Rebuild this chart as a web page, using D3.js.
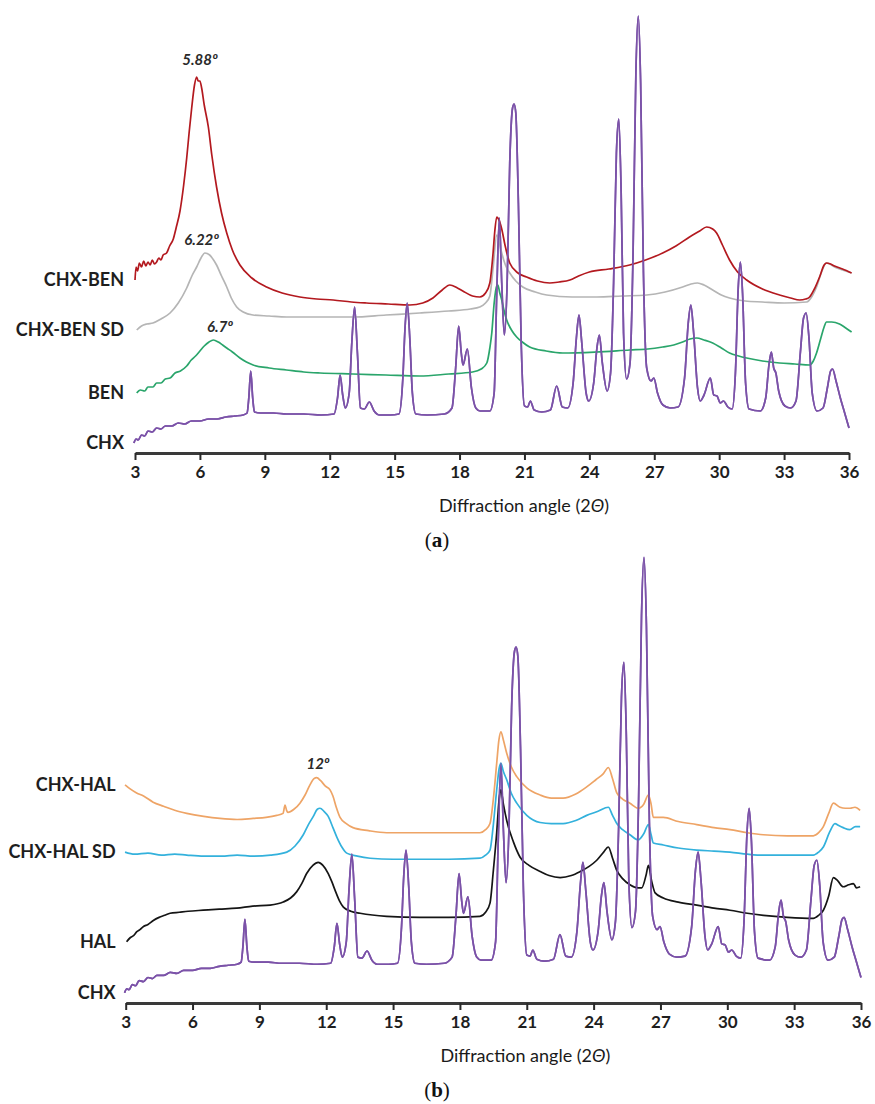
<!DOCTYPE html>
<html>
<head>
<meta charset="utf-8">
<script src="https://cdn.jsdelivr.net/npm/d3@7"></script>
<style>
  body { margin: 0; background: #fff; }
  .lbl { font-family: Lato, "Liberation Sans", sans-serif; font-weight: 700; fill: #1e1e1e; }
  .tick-lbl { font-family: Lato, sans-serif; font-weight: 700; font-size: 17px; fill: #1e1e1e; }
  .ax-title { font-family: Lato, sans-serif; font-size: 18px; fill: #1a1a1a; }
  .ann { font-family: Lato, sans-serif; font-weight: 700; font-style: italic; font-size: 15px; fill: #2a2a2a; }
  .panel-id { font-family: "Liberation Serif", "DejaVu Serif", serif; font-size: 21px; fill: #111; }
</style>
</head>
<body>
<svg id="chart" width="875" height="1104"></svg>
<script>
// x ticks (2θ)
const xTicks = [3, 6, 9, 12, 15, 18, 21, 24, 27, 30, 33, 36];

// CHX pattern, same in both panels [2θ, intensity a.u.]
const chx = [[2.95,10],[3.05,14],[3.15,13],[3.3,18],[3.45,17],[3.6,22],[3.8,21],[4.0,25],[4.2,24],[4.4,27],[4.7,27],[5.0,30],[5.3,29],[5.6,32],[6.0,32],[6.4,34],[6.8,34],[7.2,36],[7.6,37],[8.0,38],[8.18,40],
  [8.26,55],[8.35,82],[8.44,55],[8.52,41],[8.8,40],[9.4,40],[10.0,39],[10.8,39],[11.6,38],[12.2,39],
  [12.36,55],[12.48,78],[12.6,58],[12.72,45],[12.9,60],[13.02,110],[13.15,146],[13.28,100],[13.42,45],
  [13.6,44],[13.83,51],[14.05,42],[14.3,38],[14.8,38],[15.2,39],
  [15.38,75],[15.48,125],[15.58,150],[15.7,115],[15.82,60],[15.98,39],[16.5,38],[17.3,39],[17.65,45],
  [17.82,85],[17.96,127],[18.08,100],[18.16,88],[18.36,104],[18.55,65],[18.75,45],[18.95,42],[19.4,42],
  [19.6,60],[19.72,160],[19.84,235],[19.95,170],[20.07,118],[20.2,170],[20.32,290],[20.45,345],[20.52,349],[20.6,340],[20.72,250],[20.85,110],[21.0,47],
  [21.15,46],[21.27,52],[21.45,43],[21.8,41],[22.2,43],[22.49,67],[22.75,46],[23.0,45],
  [23.25,70],[23.4,115],[23.52,138],[23.65,110],[23.85,60],[23.97,52],[24.2,70],[24.35,105],[24.46,118],[24.6,90],[24.82,62],
  [24.98,80],[25.12,170],[25.25,300],[25.36,334],[25.47,260],[25.58,120],[25.72,74],
  [25.88,90],[26.02,200],[26.15,380],[26.26,437],[26.37,370],[26.5,180],[26.65,85],[26.85,72],[26.98,75],[27.15,60],[27.4,48],[27.74,45],
  [28.1,46],[28.4,75],[28.57,130],[28.69,148],[28.82,120],[29.0,65],[29.12,52],[29.3,58],[29.59,75],[29.75,58],[29.9,57],[30.05,50],[30.2,52],[30.4,46],[30.6,44],
  [30.75,80],[30.88,165],[30.98,191],[31.08,160],[31.22,70],[31.38,44],[31.9,42],
  [32.15,55],[32.3,88],[32.41,101],[32.52,85],[32.62,80],[32.75,62],[33.04,47],[33.3,45],
  [33.55,52],[33.75,100],[33.9,135],[34.02,140],[34.15,115],[34.3,60],[34.52,42],[34.8,45],
  [35.0,65],[35.15,82],[35.24,84],[35.4,72],[35.6,55],[35.8,40],[36.0,25]];

// panel (a)
const chxBen = [[3.0,173],[3.05,186],[3.12,182],[3.2,190],[3.3,186],[3.4,192],[3.5,187],[3.6,191],[3.7,188],[3.8,193],[3.9,189],[4.0,191],[4.1,195],[4.2,193],[4.3,198],[4.46,200],[4.6,207],[4.77,214],[4.9,225],
  [5.08,242],[5.25,268],[5.39,295],[5.5,320],[5.62,345],[5.75,368],[5.85,376],[5.92,372],[6.0,372],[6.08,365],[6.2,348],[6.39,326],[6.55,298],[6.77,266],[7.0,240],[7.24,220],[7.5,203],[7.85,188],
  [8.4,175],[9.08,166],[9.8,160],[10.62,156],[11.4,154],[12.16,153],[13.0,151],[13.7,150],[14.7,149],[15.7,148],[16.3,150],[16.77,155],[17.2,163],[17.55,168],[17.9,165],[18.15,162],[18.6,157],[18.94,156],
  [19.2,160],[19.4,170],[19.55,200],[19.63,222],[19.72,236],[19.8,234],[19.95,224],[20.1,208],[20.32,190],[20.7,180],[21.1,176],[21.6,172],[22.17,170],[22.6,171],[23.1,173],[23.5,177],[24.0,181],
  [24.9,184],[25.86,188],[26.6,193],[27.39,200],[28.0,207],[28.63,216],[29.1,222],[29.42,226],[29.7,224],[29.88,220],[30.15,208],[30.48,193],[30.85,181],[31.27,173],[32.0,164],[32.79,158],
  [33.3,155],[33.72,153],[34.0,154],[34.18,156],[34.4,164],[34.64,176],[34.85,188],[34.96,190],[35.15,189],[35.33,187],[35.7,184],[36.12,180]];

const chxBenSD = [[3.08,123],[3.3,127],[3.55,129],[3.83,130],[4.2,134],[4.62,140],[5.0,150],[5.39,165],[5.65,178],[5.85,186],[6.05,195],[6.23,200],[6.45,198],[6.6,194],[6.77,188],[7.0,177],[7.24,166],
  [7.45,155],[7.7,146],[8.0,141],[8.45,138],[9.2,137],[10.0,136],[11.5,136],[13.07,136],[14.6,138],[16.16,140],[17.5,142],[18.5,144],[18.93,146],[19.2,150],[19.4,157],[19.55,185],[19.72,218],
  [19.82,212],[19.95,200],[20.12,188],[20.32,180],[20.6,172],[20.92,166],[21.5,161],[22.03,158],[23.2,156],[24.34,156],[25.5,157],[26.65,158],[27.5,161],[28.31,166],[28.7,169],[29.0,170],
  [29.3,168],[29.7,163],[30.1,158],[30.48,155],[31.2,152],[32.0,151],[33.0,150],[34.04,151],[34.3,157],[34.5,166],[34.75,182],[34.96,190],[35.1,189],[35.33,186],[35.7,183],[36.12,180]];

const ben = [[3.08,60],[3.25,63],[3.45,62],[3.6,66],[3.83,66],[4.0,70],[4.2,70],[4.4,74],[4.62,75],[4.85,80],[5.1,82],[5.39,87],[5.6,93],[5.8,97],[6.0,102],[6.2,107],[6.42,111],[6.62,113],
  [6.85,111],[7.05,108],[7.24,105],[7.5,101],[7.85,95],[8.15,91],[8.46,88],[9.2,85],[10.0,83],[10.8,81],[11.55,80],[13.07,79],[14.6,78],[16.16,77],[17.5,79],[18.6,81],[19.0,84],[19.26,90],
  [19.4,105],[19.49,120],[19.6,150],[19.72,167],[19.77,168],[19.86,160],[19.95,153],[20.05,143],[20.18,133],[20.4,123],[20.64,116],[20.9,111],[21.24,106],[22.0,102],[22.77,100],[24.3,101],
  [25.86,103],[26.7,104],[27.39,106],[27.9,108],[28.31,111],[28.65,114],[28.96,115],[29.3,113],[29.7,110],[30.1,105],[30.48,100],[30.9,97],[31.27,95],[32.0,92],[32.79,90],[33.5,89],
  [34.18,88],[34.35,92],[34.5,100],[34.7,115],[34.85,126],[34.96,131],[35.2,131],[35.56,129],[35.85,125],[36.12,121]];

// panel (b)
const chxHal = [[2.97,214],[3.2,210],[3.49,206],[3.8,203],[4.23,197],[4.7,193],[5.2,189],[5.74,186],[6.5,183],[7.23,181],[8.0,180],[8.72,181],[9.3,182],[9.78,184],[10.06,186],[10.15,194],
  [10.22,189],[10.28,187],[10.55,190],[10.82,196],[11.05,204],[11.27,214],[11.45,220],[11.57,221],[11.75,218],[11.95,213],[12.17,209],[12.3,203],[12.45,192],[12.62,182],[12.9,176],[13.2,172],
  [13.9,169],[14.71,167],[16.2,167],[17.5,167],[18.9,167],[19.15,170],[19.35,176],[19.5,200],[19.65,235],[19.75,258],[19.84,266],[19.95,258],[20.1,245],[20.3,232],[20.55,222],[21.0,211],
  [21.6,204],[22.1,201],[22.63,201],[23.2,205],[23.69,212],[24.1,219],[24.44,225],[24.66,231],[24.85,220],[25.04,206],[25.3,200],[25.63,196],[26.0,191],[26.25,195],[26.46,204],[26.58,195],
  [26.68,182],[27.13,182],[27.8,178],[28.63,175],[29.4,172],[30.12,170],[30.9,167],[31.62,165],[32.7,164],[33.86,164],[34.1,167],[34.31,173],[34.55,186],[34.76,196],[35.06,192],[35.3,191],
  [35.51,191],[35.73,192],[35.96,189]];

const chxHalSD = [[2.97,148],[3.4,146],[4.0,147],[4.6,145],[5.2,146],[5.74,145],[6.5,144],[7.3,144],[8.0,145],[8.73,144],[9.5,145],[10.23,148],[10.6,154],[10.97,165],[11.2,175],[11.42,183],
  [11.6,190],[11.72,191],[11.9,188],[12.09,183],[12.3,172],[12.47,163],[12.7,153],[12.92,147],[13.4,144],[13.97,142],[15.0,141],[16.2,141],[17.5,141],[18.9,142],[19.15,145],[19.35,150],
  [19.5,175],[19.65,209],[19.76,230],[19.84,235],[19.95,227],[20.1,219],[20.3,206],[20.55,196],[21.0,184],[21.6,177],[22.1,176],[22.63,176],[23.2,179],[23.69,184],[24.2,188],[24.66,192],
  [24.85,184],[25.04,176],[25.3,170],[25.63,165],[26.0,160],[26.25,166],[26.46,175],[26.58,165],[26.68,157],[27.13,155],[27.8,152],[28.63,150],[29.4,149],[30.12,148],[30.9,146],[31.62,145],
  [32.7,145],[33.86,145],[34.1,148],[34.31,153],[34.6,168],[34.83,176],[35.0,174],[35.2,172],[35.5,170],[35.75,173],[35.96,173]];

const hal = [[3.04,60],[3.2,64],[3.35,66],[3.5,70],[3.64,72],[3.8,75],[4.0,77],[4.24,81],[4.5,84],[4.75,86],[4.99,88],[5.4,89],[5.8,90],[6.48,91],[7.2,92],[7.98,93],[8.7,95],[9.48,96],
  [10.07,99],[10.4,103],[10.67,109],[10.9,117],[11.12,127],[11.4,135],[11.64,138],[11.85,135],[12.09,127],[12.25,119],[12.39,111],[12.6,100],[12.77,94],[13.1,90],[13.52,88],[14.71,85],
  [16.2,84],[17.5,84],[18.9,85],[19.15,89],[19.35,98],[19.5,130],[19.65,167],[19.76,200],[19.84,209],[19.95,195],[20.1,179],[20.4,158],[20.7,143],[21.1,135],[21.6,129],[22.0,125],[22.5,123],
  [23.0,125],[23.4,129],[23.8,134],[24.14,140],[24.45,148],[24.66,153],[24.85,142],[25.04,130],[25.3,122],[25.63,116],[26.0,113],[26.16,113],[26.35,125],[26.46,135],[26.6,120],[26.76,108],
  [27.13,103],[27.8,99],[28.63,96],[29.4,93],[30.12,91],[30.9,88],[31.62,86],[32.7,84],[33.86,83],[34.1,86],[34.31,91],[34.55,105],[34.76,123],[34.95,120],[35.2,114],[35.45,116],[35.66,117],
  [35.8,113],[35.96,114]];

// peak annotations [text, 2θ, intensity]
const annA = [["5.88º", 6.0, 393], ["6.22º", 6.08, 213], ["6.7º", 6.93, 126]];
const annB = [["12º", 11.63, 235]];

const panels = [
  { id: "a", left: 135, right: 849, axisY: 453, height: 460,
    series: [
      { name: "CHX-BEN", data: chxBen, color: "#b3191f" },
      { name: "CHX-BEN SD", data: chxBenSD, color: "#b5b5b5" },
      { name: "BEN", data: ben, color: "#2aa56b" },
      { name: "CHX", data: chx, color: "#7b52a8" }
    ], ann: annA, labelGap: 11 },
  { id: "b", left: 125.7, right: 861, axisY: 1003, height: 469,
    series: [
      { name: "CHX-HAL", data: chxHal, color: "#eea466" },
      { name: "CHX-HAL SD", data: chxHalSD, color: "#33b1dc" },
      { name: "HAL", data: hal, color: "#151515" },
      { name: "CHX", data: chx, color: "#7b52a8" }
    ], ann: annB, labelGap: 10 }
];

const svg = d3.select("#chart");

panels.forEach(p => {
  const x = d3.scaleLinear().domain([3, 36]).range([p.left, p.right]);
  const y = d3.scaleLinear().domain([0, 460]).range([p.axisY, p.axisY - p.height]);
  const g = svg.append("g").attr("class", "panel-" + p.id);

  const line = d3.line()
    .x(d => x(d[0]))
    .y(d => y(d[1]))
    .curve(d3.curveMonotoneX);

  // draw bottom trace first, then upper ones, CHX again on top
  [3, 2, 1, 0, 3].forEach(i => {
    const s = p.series[i];
    g.append("path")
      .datum(s.data)
      .attr("d", line)
      .attr("fill", "none")
      .attr("stroke", s.color)
      .attr("stroke-width", 1.7)
      .attr("stroke-linejoin", "round");
  });

  // series labels at each trace's starting level
  p.series.forEach(s => {
    g.append("text")
      .attr("class", "lbl")
      .attr("x", x(3) - p.labelGap)
      .attr("y", y(s.data[0][1]))
      .attr("dy", "0.35em")
      .attr("text-anchor", "end")
      .style("font-size", "18px")
      .text(s.name);
  });

  // annotations
  p.ann.forEach(a => {
    g.append("text").attr("class", "ann")
      .attr("x", x(a[1])).attr("y", y(a[2])).attr("dy", "0.35em")
      .attr("text-anchor", "middle").text(a[0]);
  });

  // x axis
  const axis = g.append("g").attr("transform", `translate(0,${p.axisY})`)
    .call(d3.axisBottom(x).tickValues(xTicks).tickSize(7).tickSizeOuter(0).tickPadding(6));
  axis.select(".domain").attr("stroke", "#3a3a3a").attr("stroke-width", 3);
  axis.selectAll(".tick line").attr("stroke", "#2a2a2a").attr("stroke-width", 2);
  axis.selectAll(".tick text").attr("class", "tick-lbl").attr("fill", null).attr("font-size", null).attr("font-family", null);

  const title = g.append("text").attr("class", "ax-title")
    .attr("x", (p.left + p.right) / 2 + 32).attr("y", p.axisY + 59)
    .attr("text-anchor", "middle");
  title.append("tspan").text("Diffraction angle (2");
  title.append("tspan").attr("font-style", "italic").text("Θ");
  title.append("tspan").text(")");

  const pid = g.append("text").attr("class", "panel-id")
    .attr("x", 437).attr("y", p.axisY + 94).attr("text-anchor", "middle");
  pid.append("tspan").text("(");
  pid.append("tspan").attr("font-weight", "bold").text(p.id);
  pid.append("tspan").text(")");
});
</script>
</body>
</html>
